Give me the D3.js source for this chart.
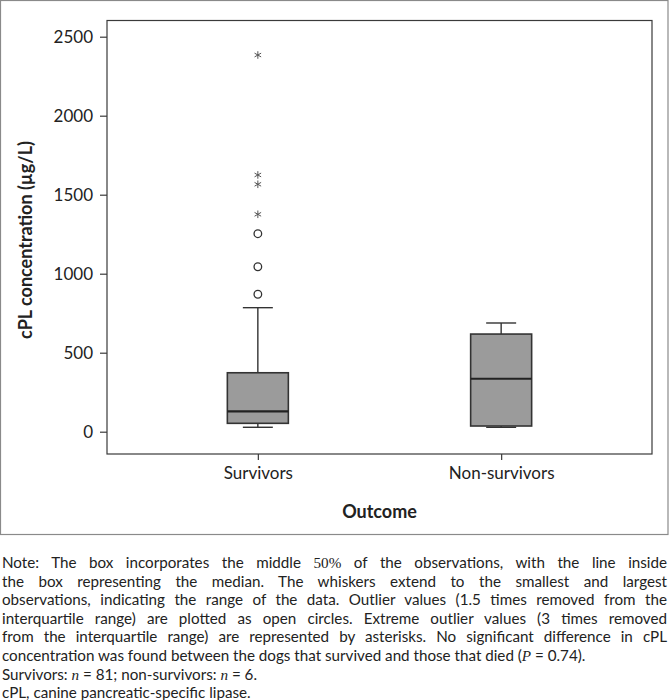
<!DOCTYPE html>
<html>
<head>
<meta charset="utf-8">
<script src="https://cdn.jsdelivr.net/npm/d3@7"></script>
<style>
	body { margin: 0; background: #fff; }
	svg { display: block; font-family: Lato, "Open Sans", sans-serif; }
</style>
</head>
<body>
<svg id="chart" width="669" height="700"></svg>
<script>
// data (ug/L)
var categories = ["Survivors", "Non-survivors"];
var whiskerLow = [28, 28];
var quartile1 = [53, 36];
var medians = [129, 335];
var quartile3 = [373, 618];
var whiskerHigh = [785, 688];
var outliers = [[870, 1044, 1253], []];          // open circles
var extremes = [[1376, 1566, 1625, 2384], []];   // asterisks
var yTicks = [0, 500, 1000, 1500, 2000, 2500];

var captionLines = [
	{ parts: [["Note: The box incorporates the middle ", 0], ["50%", 2], [" of the observations, with the line inside", 0]], justify: true },
	{ parts: [["the box representing the median. The whiskers extend to the smallest and largest", 0]], justify: true },
	{ parts: [["observations, indicating the range of the data. Outlier values (1.5 times removed from the", 0]], justify: true },
	{ parts: [["interquartile range) are plotted as open circles. Extreme outlier values (3 times removed", 0]], justify: true },
	{ parts: [["from the interquartile range) are represented by asterisks. No significant difference in cPL", 0]], justify: true },
	{ parts: [["concentration was found between the dogs that survived and those that died (", 0], ["P", 1], [" = 0.74).", 0]], justify: false },
	{ parts: [["Survivors: ", 0], ["n", 1], [" = 81; non-survivors: ", 0], ["n", 1], [" = 6.", 0]], justify: false },
	{ parts: [["cPL, canine pancreatic-specific lipase.", 0]], justify: false }
];

var svg = d3.select("#chart");

//outer frame
svg.append("rect")
	.attr("x", 0.5).attr("y", 0.5)
	.attr("width", 667.5).attr("height", 534)
	.attr("fill", "none").attr("stroke", "#8a8a8a").attr("stroke-width", 1.2);

var plotLeft = 107, plotRight = 652, plotTop = 20.5, plotBottom = 454;

var x = d3.scalePoint()
	.domain(categories)
	.range([plotLeft, plotRight])
	.padding(0.62);

var y = d3.scaleLinear()
	.domain([0, 2500])
	.range([431.7, 36.7]);

var boxW = 61, capW = 30;

// plot frame
svg.append("rect")
	.attr("x", plotLeft).attr("y", plotTop)
	.attr("width", plotRight - plotLeft).attr("height", plotBottom - plotTop)
	.attr("fill", "none").attr("stroke", "#3a3a3a").attr("stroke-width", 1.2);

// y axis
var yAxis = svg.append("g")
	.attr("transform", "translate(" + plotLeft + ",0)")
	.call(d3.axisLeft(y).tickValues(yTicks).tickFormat(d3.format("d")).tickSize(7).tickPadding(7).tickSizeOuter(0));
yAxis.select(".domain").remove();
yAxis.selectAll("line").attr("stroke", "#3a3a3a").attr("stroke-width", 1.2);
yAxis.selectAll("text")
	.attr("font-family", "Lato, sans-serif")
	.attr("font-size", 17).attr("fill", "#222");

// x axis
var xAxis = svg.append("g")
	.attr("transform", "translate(0," + plotBottom + ")")
	.call(d3.axisBottom(x).tickSize(6).tickPadding(7).tickSizeOuter(0));
xAxis.select(".domain").remove();
xAxis.selectAll("line").attr("stroke", "#3a3a3a").attr("stroke-width", 1.2);
xAxis.selectAll("text")
	.attr("font-family", "Lato, sans-serif")
	.attr("font-size", 17).attr("fill", "#222");

// axis titles
svg.append("text")
	.attr("transform", "translate(32,240) rotate(-90)")
	.attr("text-anchor", "middle")
	.attr("font-size", 18).attr("font-weight", "bold").attr("fill", "#222")
	.text("cPL concentration (\u00b5g/L)");

svg.append("text")
	.attr("x", (plotLeft + plotRight) / 2).attr("y", 518)
	.attr("text-anchor", "middle")
	.attr("font-size", 18).attr("font-weight", "bold").attr("fill", "#222")
	.text("Outcome");

// boxes
var groups = categories.map(function (c, i) {
	return { cat: c, lo: whiskerLow[i], q1: quartile1[i], med: medians[i], q3: quartile3[i], hi: whiskerHigh[i],
		out: outliers[i], ext: extremes[i] };
});

var boxG = svg.selectAll("g.box")
	.data(groups)
	.enter().append("g")
	.attr("class", "box")
	.attr("transform", function (d) { return "translate(" + x(d.cat) + ",0)"; });

var stroke = "#333";

// whisker stems
boxG.append("line")
	.attr("x1", 0).attr("x2", 0)
	.attr("y1", function (d) { return y(d.hi); })
	.attr("y2", function (d) { return y(d.q3); })
	.attr("stroke", stroke).attr("stroke-width", 1.4);
boxG.append("line")
	.attr("x1", 0).attr("x2", 0)
	.attr("y1", function (d) { return y(d.lo); })
	.attr("y2", function (d) { return y(d.q1); })
	.attr("stroke", stroke).attr("stroke-width", 1.4);
// caps
boxG.selectAll("line.cap")
	.data(function (d) { return [d.lo, d.hi]; })
	.enter().append("line")
	.attr("class", "cap")
	.attr("x1", -capW / 2).attr("x2", capW / 2)
	.attr("y1", function (v) { return y(v); })
	.attr("y2", function (v) { return y(v); })
	.attr("stroke", stroke).attr("stroke-width", 1.4);
// box
boxG.append("rect")
	.attr("x", -boxW / 2).attr("width", boxW)
	.attr("y", function (d) { return y(d.q3); })
	.attr("height", function (d) { return y(d.q1) - y(d.q3); })
	.attr("fill", "#9b9b9b").attr("stroke", stroke).attr("stroke-width", 1.6);
// median
boxG.append("line")
	.attr("x1", -boxW / 2).attr("x2", boxW / 2)
	.attr("y1", function (d) { return y(d.med); })
	.attr("y2", function (d) { return y(d.med); })
	.attr("stroke", "#222").attr("stroke-width", 2.2);
// outliers
boxG.selectAll("circle")
	.data(function (d) { return d.out; })
	.enter().append("circle")
	.attr("cx", 0).attr("cy", function (v) { return y(v); })
	.attr("r", 3.8)
	.attr("fill", "none").attr("stroke", "#333").attr("stroke-width", 1.3);
// extremes
var ast = d3.symbol().type(d3.symbolAsterisk).size(40);
boxG.selectAll("path.ext")
	.data(function (d) { return d.ext; })
	.enter().append("path")
	.attr("class", "ext")
	.attr("transform", function (v) { return "translate(0," + y(v) + ")"; })
	.attr("d", ast)
	.attr("fill", "none").attr("stroke", "#555").attr("stroke-width", 1);

// caption
var capLeft = 2, capRight = 667, capY0 = 568, capStep = 18.6;
captionLines.forEach(function (line, i) {
	var t = svg.append("text")
		.attr("x", capLeft).attr("y", capY0 + i * capStep)
		.attr("font-family", "Lato, sans-serif")
		.attr("font-size", 15.2).attr("fill", "#222");
	line.parts.forEach(function (p) {
		var s = t.append("tspan").text(p[0]);
		if (p[1] == 1) s.attr("font-family", "'Liberation Serif', serif").attr("font-style", "italic");
		if (p[1] == 2) s.attr("font-family", "'Liberation Serif', serif");
	});
	if (line.justify) {
		var full = line.parts.map(function (p) { return p[0]; }).join("");
		var spaces = full.split(" ").length - 1;
		var w = t.node().getComputedTextLength();
		t.attr("word-spacing", (capRight - capLeft - w) / spaces);
	}
});
</script>
</body>
</html>
